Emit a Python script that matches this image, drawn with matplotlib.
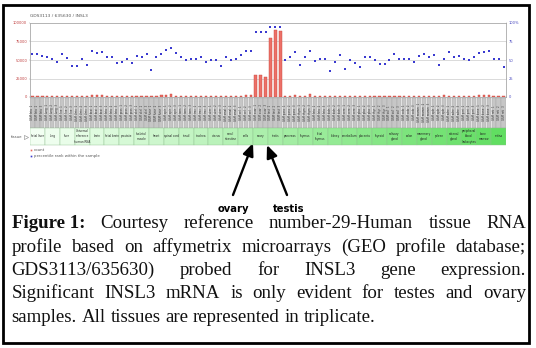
import matplotlib.pyplot as plt
import numpy as np
from matplotlib.patches import Rectangle

W, H = 536, 348

# 32 tissues, 3 samples each
tissues = ["fetal liver", "lung", "liver", "Universal\nreference\nhuman RNA", "brain",
           "fetal brain", "prostate", "skeletal\nmuscle", "heart", "spinal cord", "tonsil",
           "trachea", "uterus", "small\nintestine", "cells", "ovary", "testis", "pancreas",
           "thymus", "fetal\nthymus", "kidney", "cerebellum", "placenta", "thyroid",
           "salivary\ngland", "colon", "mammary\ngland", "spleen", "adrenal\ngland",
           "peripheral\nblood\nleukocytes", "bone\nmarrow", "retina"]

# count (left axis)
count = [1500, 1200, 1400, 1300, 1000, 900,
         800, 1600, 700, 1200, 1300, 1100,
         2600, 2200, 2400, 1300, 1500, 800,
         1100, 900, 1200, 1000, 1400, 1600,
         2000, 1300, 2200, 3000, 4500, 1800,
         1000, 1200, 900, 1500, 1200, 1100,
         1000, 1300, 800, 1100, 1400, 1500,
         1600, 2600, 3200, 29500, 29500, 27300,
         79500, 90900, 89500, 1400, 1200, 2300,
         1300, 1100, 3800, 1500, 1300, 1000,
         900, 1200, 1100, 1500, 1300, 1200,
         1100, 1400, 1000, 1300, 1600, 1200,
         1000, 1100, 1300, 1200, 1500, 1000,
         1400, 1200, 1100, 1300, 1200, 3000,
         1500, 1300, 1100, 1200, 1600, 1400,
         2500, 2800, 2700, 1300, 1500, 1200]

# percentile rank within the sample (right axis)
rank = [57.7, 57.7, 55.9, 54.5, 51.8, 47.7,
        57.7, 52.7, 42.3, 42.3, 51.4, 43.6,
        61.8, 60.0, 60.5, 54.5, 54.5, 45.5,
        47.7, 51.4, 46.4, 55.9, 54.1, 58.6,
        36.8, 54.5, 58.6, 63.6, 66.8, 60.0,
        53.6, 49.5, 50.9, 50.9, 54.5, 47.7,
        50.5, 49.5, 42.3, 53.6, 49.5, 50.9,
        56.8, 61.8, 62.7, 88.2, 87.7, 87.7,
        94.1, 94.5, 94.5, 49.5, 54.5, 60.9,
        43.6, 53.6, 62.3, 48.2, 51.8, 51.8,
        34.5, 46.8, 57.3, 37.3, 49.5, 45.5,
        40.0, 54.5, 54.5, 49.5, 45.0, 45.0,
        49.5, 57.7, 50.9, 50.9, 50.9, 46.8,
        55.9, 57.7, 53.6, 57.3, 43.6, 50.9,
        60.9, 54.5, 55.9, 50.9, 50.5, 54.5,
        60.0, 60.5, 62.3, 51.8, 51.8, 40.9]

count_ticks = [0, 25000, 50000, 75000, 100000]
count_labels = ["0", "25000", "50000", "75000", "100000"]
rank_ticks = [0, 25, 50, 75, 100]
rank_labels = ["0", "25", "50", "75", "100%"]

caption = [
    "Figure 1: Courtesy reference number-29-Human tissue RNA",
    "profile based on affymetrix microarrays (GEO profile database;",
    "GDS3113/635630) probed for INSL3 gene expression.",
    "Significant INSL3 mRNA is only evident for testes and ovary",
    "samples. All tissues are represented in triplicate.",
]

n = len(count)
x = np.arange(n)

fig = plt.figure(figsize=(W / 100, H / 100), dpi=100)

# overlay in pixel coordinates
axo = fig.add_axes([0, 0, 1, 1])
axo.set_xlim(0, W)
axo.set_ylim(H, 0)
axo.axis('off')

# main chart
ax = fig.add_axes([30 / W, 1 - 97 / H, 476 / W, 74 / H])
ax.set_xlim(-0.5, n - 0.5)
ax.set_ylim(0, 100000)
for v in count_ticks[1:-1]:
    ax.axhline(v, color='#d4d4d4', lw=0.6, zorder=0)
ax.bar(x, count, width=0.45, color='#ec7068', edgecolor='#c8453c', linewidth=0.3, zorder=2)
ax.set_xticks([])
ax.set_yticks(count_ticks)
ax.set_yticklabels(count_labels, fontsize=2.6, color='#c04040')
ax.tick_params(axis='y', length=1, width=0.3, pad=1, color='#999999')
for s in ax.spines.values():
    s.set_color('#a8a8a8')
    s.set_linewidth(0.6)

ax2 = ax.twinx()
ax2.set_ylim(0, 100)
ax2.scatter(x, rank, s=1.6, marker='s', color='#3a3ad0', linewidths=0, zorder=3)
ax2.set_yticks(rank_ticks)
ax2.set_yticklabels(rank_labels, fontsize=2.6, color='#4a4ac0')
ax2.tick_params(axis='y', length=1, width=0.3, pad=1, color='#999999')
for s in ax2.spines.values():
    s.set_visible(False)

fig.text(30 / W, 1 - 17 / H, "GDS3113 / 635630 / INSL3", fontsize=3.2, color='#555555')

# sample strips and tissue boxes
axs = fig.add_axes([30 / W, 1 - 146 / H, 476 / W, 49 / H])
axs.set_xlim(-0.5, n - 0.5)
axs.set_ylim(146, 97)
axs.axis('off')
for i in range(n):
    axs.add_patch(Rectangle((i - 0.42, 97.6), 0.84, 30, fc='#c6c6c6', ec='#9a9a9a', lw=0.2))
    axs.text(i, 112.5, "GSM %s  %d" % (tissues[i // 3].split("\n")[0][:4], i % 3 + 1),
             rotation=90, fontsize=1.9, ha='center', va='center', color='#333333')

c0 = np.array([0.95, 1.0, 0.95])
c1 = np.array([0.38, 0.87, 0.38])
nt = len(tissues)
for t, name in enumerate(tissues):
    col = c0 + (c1 - c0) * t / (nt - 1)
    axs.add_patch(Rectangle((3 * t - 0.5, 128), 3, 17, fc=col, ec='#8fbf8f', lw=0.3))
    axs.text(3 * t + 1, 136.5, name, fontsize=2.0, ha='center', va='center',
             color='#222222', linespacing=1.5)

# tissue label, legend
axo.text(22, 137, "tissue", fontsize=2.8, color='#555555', ha='right', va='center')
axo.plot(26, 137, marker='>', ms=3, mfc='white', mec='#888888', mew=0.4)
axo.plot(31, 150, marker='s', ms=1.2, color='#e8665c', mew=0)
axo.text(34, 150, "count", fontsize=2.8, color='#555555', va='center')
axo.plot(31, 156, marker='s', ms=1.2, color='#3a3ad0', mew=0)
axo.text(34, 156, "percentile rank within the sample", fontsize=2.8, color='#555555', va='center')

# arrows
arrow = dict(arrowstyle='-|>,head_length=0.75,head_width=0.32', lw=1.7, color='black',
             shrinkA=0, shrinkB=0)
axo.annotate("", xy=(253, 143), xytext=(233, 195), arrowprops=arrow)
axo.annotate("", xy=(267, 145), xytext=(287, 195), arrowprops=arrow)
axo.text(233, 209, "ovary", fontsize=7.2, fontweight='bold', ha='center', va='center')
axo.text(289, 209, "testis", fontsize=7.2, fontweight='bold', ha='center', va='center')

# outer frame
axo.add_patch(Rectangle((3.3, 5), 525.5, 338, fill=False, ec='black', lw=2))

# justified caption; font size chosen so the last (unjustified) line ends near x=375
renderer = fig.canvas.get_renderer()
left, right = 11.5, 526
probe = axo.text(0, 0, caption[-1], fontsize=12, family='Liberation Serif')
fs = 12 * (375 - left) / probe.get_window_extent(renderer).width
probe.remove()
baselines = [228.5, 251.8, 275, 298.3, 321.6]
t1 = axo.text(0, 0, "a a", fontsize=fs, family='Liberation Serif')
t2 = axo.text(0, 0, "aa", fontsize=fs, family='Liberation Serif')
space = t1.get_window_extent(renderer).width - t2.get_window_extent(renderer).width
t1.remove()
t2.remove()
for li, line in enumerate(caption):
    if li == 0:
        words = ["Figure 1:"] + line.split()[2:]
    else:
        words = line.split()
    items = []
    for wi, w in enumerate(words):
        bold = (li == 0 and wi == 0)
        t = axo.text(0, baselines[li], w, fontsize=fs, family='Liberation Serif',
                     fontweight='bold' if bold else 'normal', va='baseline', color='#111111')
        items.append((t, t.get_window_extent(renderer).width))
    total = sum(w for _, w in items)
    if li < len(caption) - 1:
        gap = (right - left - total) / (len(items) - 1)
    else:
        gap = space
    xpos = left
    for t, w in items:
        t.set_x(xpos)
        xpos += w + gap

fig.savefig("out.png", dpi=100)
